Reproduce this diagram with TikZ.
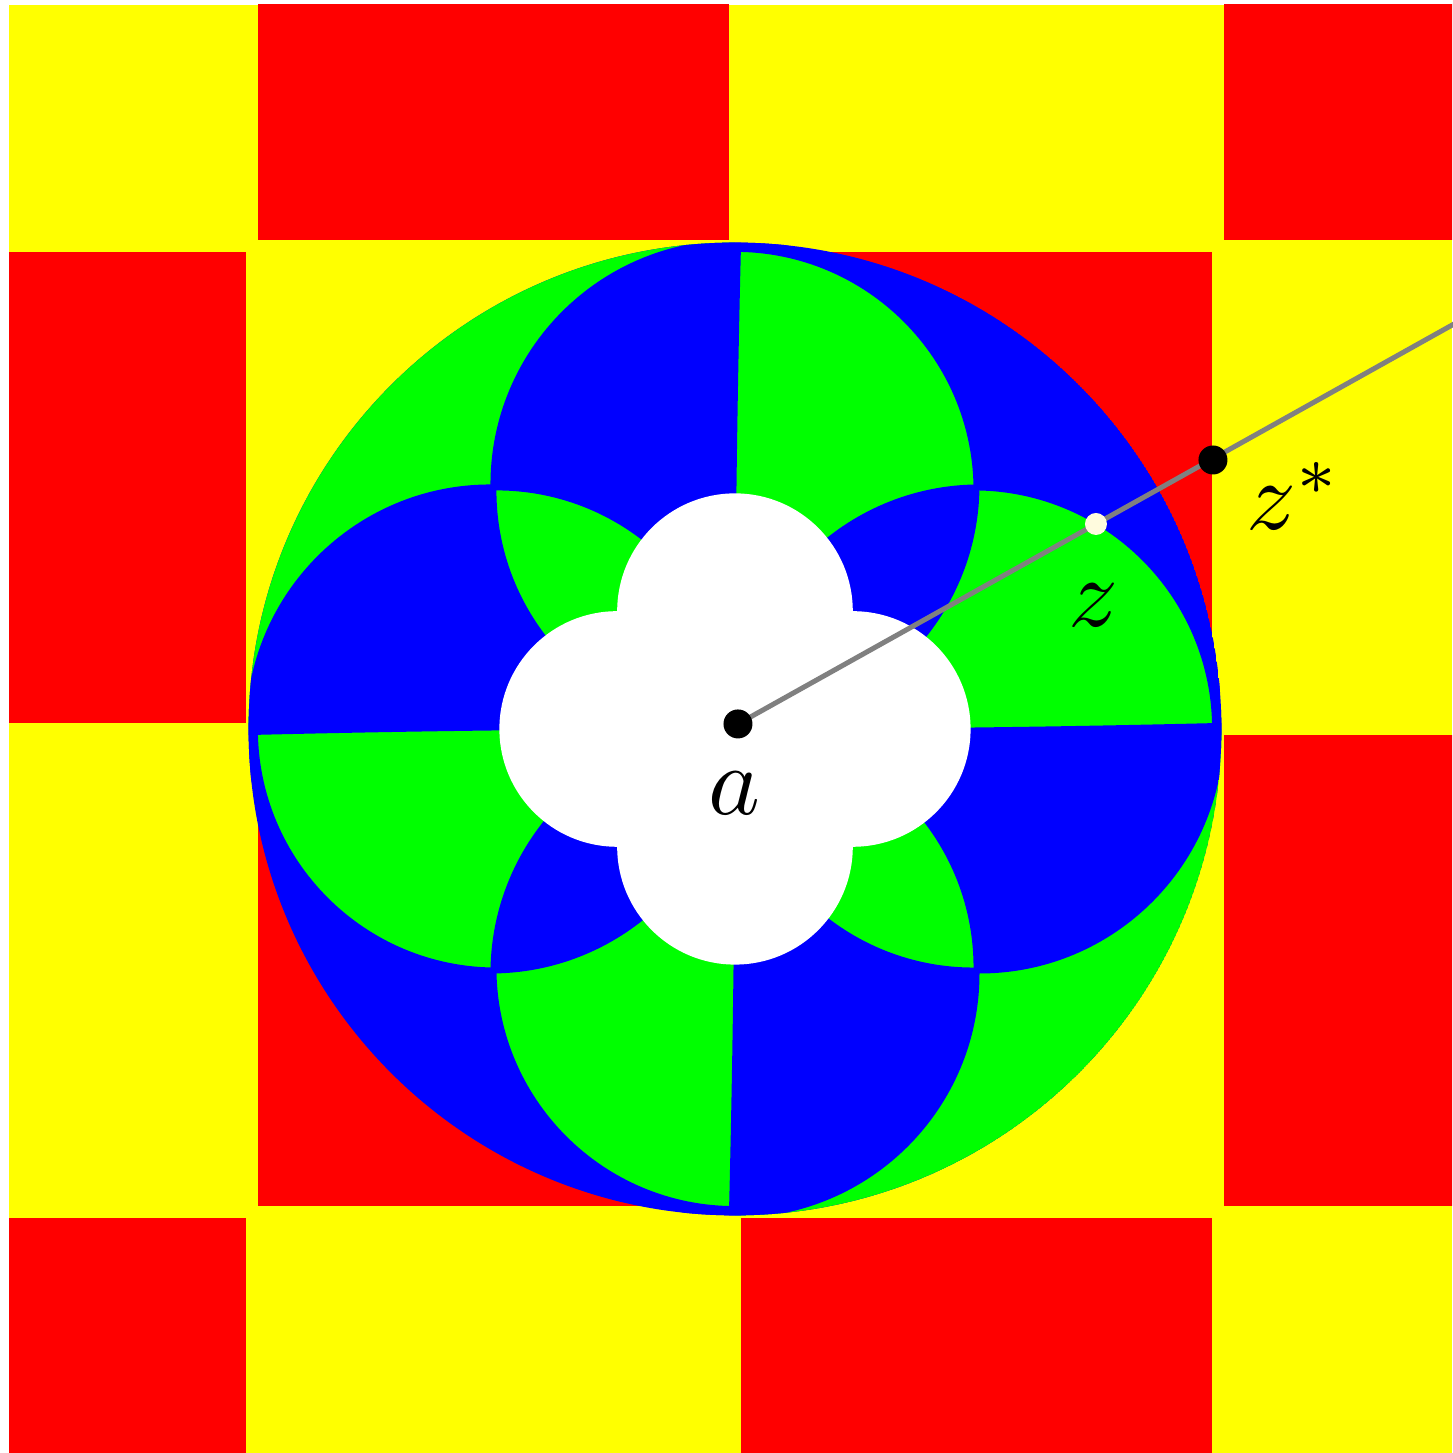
\documentclass[tikz,border=0pt]{standalone}
\usetikzlibrary{calc}
\definecolor{tilered}{RGB}{255,0,0}
\definecolor{tileyellow}{RGB}{255,255,0}
\definecolor{diskblue}{RGB}{0,0,255}
\definecolor{diskgreen}{RGB}{0,255,0}
\definecolor{raycol}{RGB}{128,128,128}
\definecolor{zcol}{RGB}{255,251,222}
\tikzset{
  ptdot/.style={circle, fill=black, inner sep=0pt, minimum size=2.9mm},
  ptlabel/.style={font=\normalsize, inner sep=0pt, scale=2.8},
}
\begin{document}
\begin{tikzpicture}[x=4.83cm,y=4.83cm]
\def\gap{0.0124}
\def\rdisk{1.007}
\def\rsmall{0.2439}
\useasboundingbox (-1.5217,-1.499) rectangle (1.4845,1.5093);
\fill[white] (-1.5217,-1.499) rectangle (1.4845,1.5093);

% ── Checkerboard of the plane ────────────────────────────────────────────────
\begin{scope}
  \clip (-1.503,-1.499) rectangle (1.4845,1.499);
  \fill[tileyellow] (-1.503,-1.499) rectangle (1.4845,1.499);
  \foreach \i/\j in {-2/-2, -2/0, -1/-1, -1/1, 0/-2, 0/0, 1/-1, 1/1}
    \fill[tilered] (\i+\gap,\j+\gap) rectangle (\i+1-\gap,\j+1-\gap);
\end{scope}

% ── Inverted board inside the unit disk ──────────────────────────────────────
\begin{scope}
  \clip (0,0) circle (\rdisk);
  \fill[diskblue] (0,0) circle (\rdisk);
  \fill[diskgreen, even odd rule]
       (0,0) rectangle (-1.1,1.1) (0,0) rectangle (1.1,-1.1)
       (0.5,0) circle (0.5) (-0.5,0) circle (0.5)
       (0,0.5) circle (0.5) (0,-0.5) circle (0.5);

  % gaps between tiles come out blue
  \foreach \s in {1,-1} {
    \fill[diskblue, even odd rule]
         ({\s*0.5/(1-\gap)},0) circle ({0.5/(1-\gap)})
         ({\s*0.5/(1+\gap)},0) circle ({0.5/(1+\gap)});
    \fill[diskblue, even odd rule]
         (0,{\s*0.5/(1-\gap)}) circle ({0.5/(1-\gap)})
         (0,{\s*0.5/(1+\gap)}) circle ({0.5/(1+\gap)});
  }
  \fill[diskblue] plot[domain=-1.05:1.05, samples=40] ({\gap*\x*\x},\x)
       -- plot[domain=1.05:-1.05, samples=40] ({-\gap*\x*\x},\x) -- cycle;
  \fill[diskblue] plot[domain=-1.05:1.05, samples=40] (\x,{\gap*\x*\x})
       -- plot[domain=1.05:-1.05, samples=40] (\x,{-\gap*\x*\x}) -- cycle;

  % empty centre (image of |x|>2 or |y|>2)
  \fill[white] (\rsmall,0) circle (\rsmall) (-\rsmall,0) circle (\rsmall)
               (0,\rsmall) circle (\rsmall) (0,-\rsmall) circle (\rsmall);
\end{scope}

% ── Points a, z, z* and the ray ──────────────────────────────────────────────
\coordinate (a)  at (0.0062,0.0104);
\coordinate (z)  at (0.7474,0.4244);
\coordinate (zs) at (0.9896,0.5569);
\coordinate (rim) at (1.52,0.856);
\draw[raycol, line width=0.5mm] (a) -- (rim);

\node[ptdot] (adot) at (a) {};
\node[ptdot, fill=zcol, minimum size=2.2mm] (zdot) at (z) {};
\node[ptdot] (zsdot) at (zs) {};

\node[ptlabel, anchor=base] (alabel) at (0,-0.178) {$a$};
\node[ptlabel, anchor=base] (zlabel) at (0.7433,0.2112) {$z$};
\node[ptlabel, anchor=base west] (zslabel) at (1.054,0.412) {$z^*$};

\end{tikzpicture}
\end{document}
